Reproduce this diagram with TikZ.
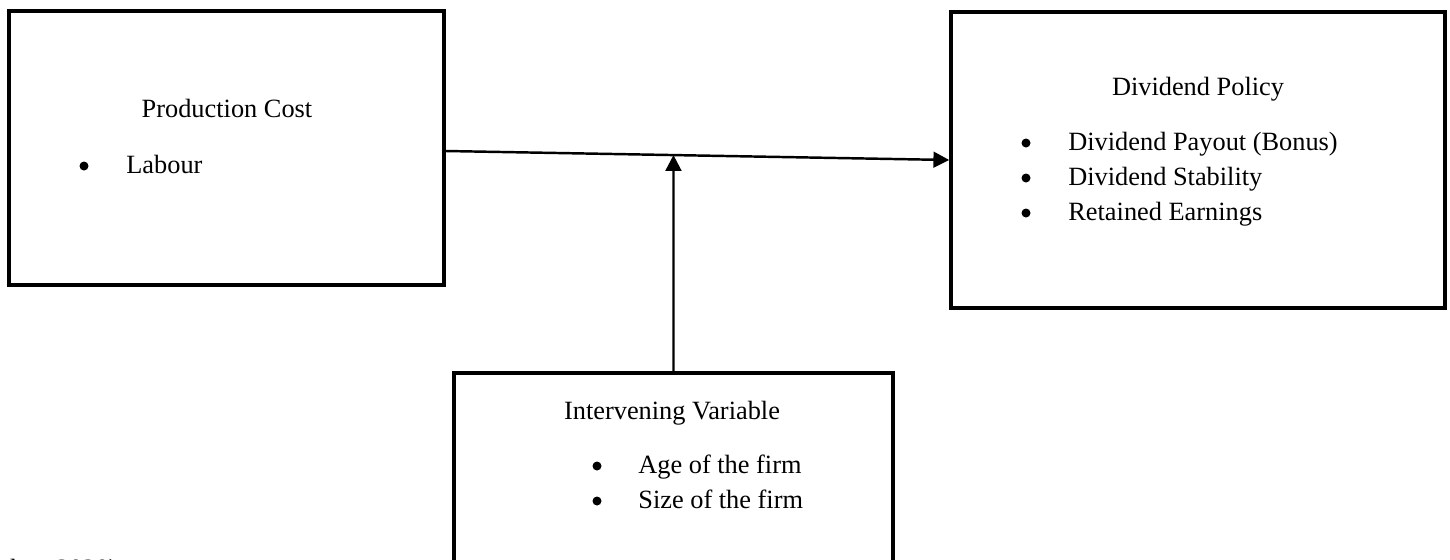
\documentclass[tikz,border=0pt]{standalone}
\usepackage{fontspec}
\setmainfont{Liberation Serif}
\usepackage{tikz}
\usetikzlibrary{arrows.meta,positioning,calc}
\tikzset{
  frame/.style = {rectangle, draw=black, line width=2pt, inner sep=0pt},
  txt/.style = {inner sep=0pt, anchor=base, font=\fontsize{15}{20}\selectfont},
  dot/.style = {circle, fill=black, inner sep=0pt, minimum size=9*0.02cm},
  arrow/.style = {line width=1.4pt, -{Triangle[length=9pt, width=9pt]}}
}
\begin{document}
\begin{tikzpicture}[x=0.02cm, y=-0.02cm]
\useasboundingbox (0,0) rectangle (1450,559);
% Boxes
\node[frame, minimum width=435*0.02cm, minimum height=274*0.02cm] (pcost) at (226.5,148) {};
\node[frame, minimum width=494*0.02cm, minimum height=296*0.02cm] (divpol) at (1198,160) {};
\node[frame, minimum width=439*0.02cm, minimum height=260*0.02cm] (intvar) at (673.5,503) {};

% Titles
\node[txt] (pctitle) at (227,117) {Production Cost};
\node[txt] (dptitle) at (1198,95) {Dividend Policy};
\node[txt] (ivtitle) at (672,419) {Intervening Variable};

% Bullet items
\node[dot] (pcdot) at (84,166) {};
\node[txt, anchor=base west] (pclab) at (126,173) {Labour};

\foreach \item [count=\i] in {{Dividend Payout (Bonus)}, {Dividend Stability}, {Retained Earnings}} {
  \node[dot] (dpdot\i) at (1026,108+35*\i) {};
  \node[txt, anchor=base west] (dpitem\i) at (1068,115+35*\i) {\item};
}

\foreach \item [count=\i] in {{Age of the firm}, {Size of the firm}} {
  \node[dot] (ivdot\i) at (597,431+35*\i) {};
  \node[txt, anchor=base west] (ivitem\i) at (638,438+35*\i) {\item};
}

% Source line (cut off)
\node[txt, anchor=base west] (source) at (10,577) {her, 2020)};

% Arrows
\draw[arrow] ([yshift=-3*0.02cm]pcost.east) -- (divpol.west);
\coordinate (meet) at (intersection of {[yshift=-3*0.02cm]pcost.east}--divpol.west and intvar.north--intvar.south);
\draw[arrow] (intvar.north) -- (meet);
\end{tikzpicture}
\end{document}
